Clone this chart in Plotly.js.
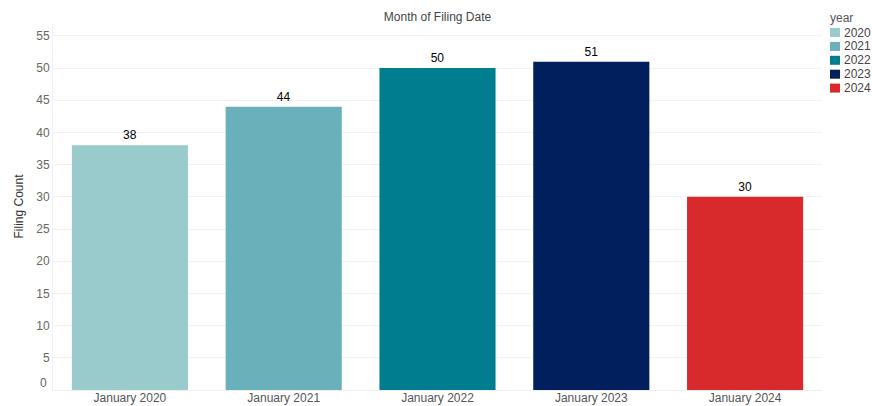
<!DOCTYPE html>
<html><head><meta charset="utf-8">
<script src="https://cdn.plot.ly/plotly-3.0.1.min.js"></script>
<style>html,body{margin:0;padding:0;background:#fff}#chart{width:872px;height:406px}</style>
</head><body><div id="chart"></div>
<script>
const years = ["2020", "2021", "2022", "2023", "2024"];
const months = ["January 2020", "January 2021", "January 2022", "January 2023", "January 2024"];
const counts = [38, 44, 50, 51, 30];
const colors = ["#99cbcd", "#69b0bb", "#007e8f", "#001f5c", "#d8292c"];
const yTicks = [0, 5, 10, 15, 20, 25, 30, 35, 40, 45, 50, 55];

const W = 872, H = 406;
const traces = years.map((y, i) => ({
  type: "bar",
  name: y,
  x: [months[i]],
  y: [counts[i]],
  marker: {color: colors[i]},
  text: [String(counts[i])],
  textposition: "outside",
  textfont: {color: "#000", size: 12},
  cliponaxis: false,
  hoverinfo: "x+y",
  showlegend: false
}));

const margin = {l: 53, r: 50, t: 23, b: 16};
const pw = W - margin.l - margin.r, ph = H - margin.t - margin.b;
const px = v => (v - margin.l) / pw;
const py = v => (H - margin.b - v) / ph;

// custom legend built from years/colors
const legX = 830, legY0 = 32.5, legStep = 13.9;
const shapes = years.map((y, i) => {
  const cy = legY0 + i * legStep;
  return {
    type: "rect", xref: "paper", yref: "paper",
    x0: px(legX), x1: px(legX + 10), y0: py(cy + 4.5), y1: py(cy - 4.5),
    fillcolor: colors[i], line: {width: 0}
  };
});
const annotations = years.map((y, i) => ({
  text: y, xref: "paper", yref: "paper",
  x: px(842), y: py(legY0 + i * legStep),
  xanchor: "left", yanchor: "middle", showarrow: false,
  font: {size: 12, color: "#444"}
}));
annotations.push({
  text: "year", xref: "paper", yref: "paper",
  x: px(828), y: py(18.5), xanchor: "left", yanchor: "middle",
  showarrow: false, font: {size: 12, color: "#555"}
});
// bottom tick label "0" is drawn raised (clamped inside the axis), as in the reference
annotations.push({
  text: String(yTicks[0]), xref: "paper", yref: "paper",
  x: px(48.5), y: py(383), xanchor: "right", yanchor: "middle",
  showarrow: false, font: {size: 12, color: "#666"}
});

const layout = {
  width: W, height: H,
  margin: margin,
  paper_bgcolor: "#fff", plot_bgcolor: "#fff",
  font: {family: "Liberation Sans, Arial, sans-serif", size: 12, color: "#555"},
  title: {text: "Month of Filing Date", font: {size: 12, color: "#444"}, x: 0.5, xref: "paper", y: 0.958, yref: "container", yanchor: "middle"},
  barmode: "overlay",
  bargap: 0.245,
  xaxis: {
    type: "category", categoryorder: "array", categoryarray: months,
    showgrid: false, showline: true, linecolor: "#eeeeee", linewidth: 1,
    ticks: "", tickfont: {size: 12, color: "#555"}, automargin: false,
    ticklabelstandoff: -3
  },
  yaxis: {
    range: [0, 57], tickvals: yTicks,
    ticktext: yTicks.map((t, i) => i === 0 ? "" : String(t)),
    showgrid: true, gridcolor: "#f1f1f1",
    zeroline: false, showline: true, linecolor: "#f1f1f1",
    ticks: "", ticklen: 0, tickfont: {size: 12, color: "#666"},
    title: {text: "Filing Count", font: {size: 12, color: "#333"}, standoff: 10},
    automargin: false
  },
  showlegend: false,
  shapes: shapes,
  annotations: annotations
};
Plotly.newPlot("chart", traces, layout, {displayModeBar: false, staticPlot: true});
</script></body></html>
